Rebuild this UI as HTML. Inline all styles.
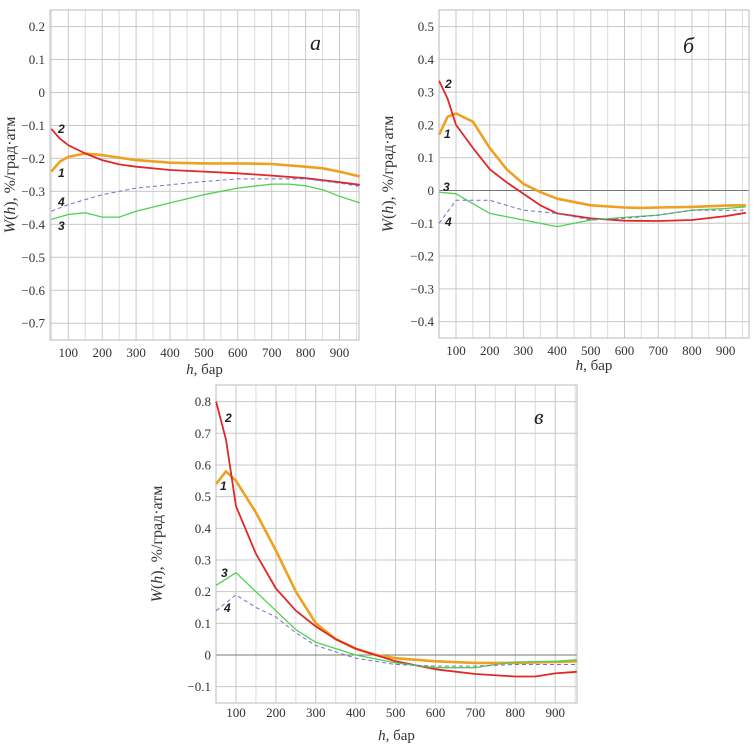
<!DOCTYPE html>
<html><head><meta charset="utf-8"><style>
html,body{margin:0;padding:0;background:#fff;}
svg{display:block;font-family:"Liberation Serif",serif;}
</style></head><body>
<svg id="chart" width="754" height="746" viewBox="0 0 754 746"></svg>
<script>
// ---------- data ----------
const seriesNames = ['1','2','3','4'];
const seriesColors = ['#f0a020','#e02828','#50d050','#7070d0'];
const seriesWidths = [2.6,1.8,1.3,1.0];
const seriesDash = ['','','','4,3'];

const aH1 = [50,75,100,150,200,300,400,500,600,700,800,850,900,960];
const aW1 = [-0.24,-0.21,-0.195,-0.185,-0.19,-0.205,-0.213,-0.215,-0.215,-0.217,-0.225,-0.23,-0.24,-0.255];
const aH2 = [50,75,100,150,200,250,300,400,500,600,700,800,900,960];
const aW2 = [-0.11,-0.14,-0.16,-0.185,-0.205,-0.218,-0.225,-0.235,-0.24,-0.245,-0.252,-0.26,-0.272,-0.28];
const aH3 = [50,100,150,200,250,300,400,500,600,700,750,800,850,900,960];
const aW3 = [-0.385,-0.37,-0.365,-0.378,-0.378,-0.36,-0.335,-0.31,-0.29,-0.278,-0.278,-0.283,-0.295,-0.315,-0.335];
const aH4 = [50,100,200,300,400,500,600,700,800,900,960];
const aW4 = [-0.36,-0.34,-0.31,-0.29,-0.28,-0.27,-0.262,-0.262,-0.262,-0.275,-0.285];

const bH1 = [50,75,100,150,200,250,300,350,400,500,600,650,700,800,900,960];
const bW1 = [0.17,0.225,0.235,0.21,0.13,0.065,0.02,-0.005,-0.025,-0.045,-0.052,-0.053,-0.052,-0.05,-0.046,-0.045];
const bH2 = [50,75,100,150,200,250,300,350,400,500,600,700,800,900,960];
const bW2 = [0.335,0.28,0.2,0.13,0.065,0.025,-0.01,-0.045,-0.07,-0.085,-0.092,-0.093,-0.09,-0.078,-0.068];
const bH3 = [50,100,200,300,400,500,600,700,800,900,960];
const bW3 = [-0.005,-0.01,-0.07,-0.09,-0.11,-0.09,-0.082,-0.075,-0.06,-0.055,-0.05];
const bH4 = [50,100,200,300,400,500,600,700,800,900,960];
const bW4 = [-0.1,-0.03,-0.03,-0.06,-0.07,-0.09,-0.085,-0.075,-0.06,-0.06,-0.06];

const cH1 = [50,75,100,150,200,250,300,350,400,450,500,600,700,800,900,954];
const cW1 = [0.54,0.58,0.55,0.45,0.33,0.2,0.1,0.05,0.02,0.0,-0.01,-0.02,-0.025,-0.025,-0.022,-0.02];
const cH2 = [50,75,100,150,200,250,300,350,400,500,600,700,800,850,900,954];
const cW2 = [0.8,0.68,0.47,0.32,0.21,0.14,0.09,0.05,0.02,-0.02,-0.045,-0.06,-0.068,-0.068,-0.058,-0.053];
const cH3 = [50,100,150,200,250,300,400,500,600,700,750,800,900,954];
const cW3 = [0.22,0.26,0.2,0.14,0.08,0.04,0.0,-0.025,-0.04,-0.04,-0.03,-0.022,-0.02,-0.015];
const cH4 = [50,100,150,200,250,300,400,500,600,700,800,954];
const cW4 = [0.14,0.19,0.15,0.12,0.07,0.03,-0.01,-0.03,-0.035,-0.035,-0.03,-0.03];

const xTicks = [100,200,300,400,500,600,700,800,900];
const aYTicks = [0.2,0.1,0,-0.1,-0.2,-0.3,-0.4,-0.5,-0.6,-0.7];
const bYTicks = [0.5,0.4,0.3,0.2,0.1,0,-0.1,-0.2,-0.3,-0.4];
const cYTicks = [0.8,0.7,0.6,0.5,0.4,0.3,0.2,0.1,0,-0.1];

// ---------- drawing ----------
const NS='http://www.w3.org/2000/svg';
const svg=document.getElementById('chart');
function mk(tag,attrs,parent){const e=document.createElementNS(NS,tag);for(const k in attrs)e.setAttribute(k,attrs[k]);(parent||svg).appendChild(e);return e;}
function fmt(v){if(Math.abs(v)<1e-9)return '0';let s=v.toFixed(1);if(v<0)s='\u2212'+s.slice(1);return s;}

function drawPanel(p){
  const g=mk('g',{});
  
  
  const sx=h=>p.x0+(h-p.h0)*p.kx;
  const sy=w=>p.y0-w*p.ky;
  // grid
  for(let h=50;h<=p.hmax;h+=50){
    const l=mk('line',{x1:sx(h),x2:sx(h),y1:p.top,y2:p.bottom,stroke:h%100===0?'#c8c8c8':'#dcdcdc','stroke-width':1},g);
    
    
  }
  p.yt.forEach(v=>{
    const l=mk('line',{x1:p.left,x2:p.right,y1:sy(v),y2:sy(v),stroke:Math.abs(v)<1e-9&&p.zeroDark?'#777':'#c8c8c8','stroke-width':1},g);
    
    
    const t=mk('text',{x:p.left-5,y:sy(v)+4.5,'text-anchor':'end','font-size':13,fill:'#333'},g);
    t.textContent=fmt(v);
    
    
  });
  const fr=mk('rect',{x:p.left,y:p.top,width:p.right-p.left,height:p.bottom-p.top,fill:'none',stroke:'#bbb','stroke-width':1},g);
  
  
  xTicks.forEach(h=>{
    const t=mk('text',{x:sx(h),y:p.bottom+p.xtOff,'text-anchor':'middle','font-size':13,fill:'#333'},g);
    t.textContent=h;
    
    
  });
  // series
  p.series.forEach((s,i)=>{
    const pts=s[0].map((h,j)=>sx(h).toFixed(1)+','+sy(s[1][j]).toFixed(1)).join(' ');
    const pl=mk('polyline',{points:pts,fill:'none',stroke:seriesColors[i],'stroke-width':seriesWidths[i],'stroke-dasharray':seriesDash[i],'stroke-linejoin':'round'},g);
    
    
    const t=mk('text',{x:p.lab[i][0],y:p.lab[i][1],'font-size':12,'font-weight':'bold','font-style':'italic','font-family':'Liberation Sans, sans-serif',fill:'#222'},g);
    t.textContent=seriesNames[i];
    
    
  });
  const L=mk('text',{x:p.letter[0],y:p.letter[1],'font-size':22,'font-style':'italic',fill:'#222'},g);
  L.textContent=p.id;
  
  
  const xt=mk('text',{x:(p.left+p.right)/2,y:p.bottom+p.xtitleOff,'text-anchor':'middle','font-size':15,fill:'#333'},g);
  xt.innerHTML='<tspan font-style="italic">h</tspan>, бар';
  
  
  const cy=(p.top+p.bottom)/2;
  const yt=mk('text',{x:p.ytx,y:cy,'text-anchor':'middle','font-size':16,fill:'#333',transform:'rotate(-90 '+p.ytx+' '+cy+')'},g);
  yt.innerHTML='<tspan font-style="italic">W</tspan>(<tspan font-style="italic">h</tspan>), %/град·атм';
  
  
}

drawPanel({id:'а',h0:100,x0:68.3,kx:0.339,y0:92.5,ky:329.6,left:50,right:359,top:10,bottom:340,hmax:950,
  yt:aYTicks,zeroDark:false,xtOff:17,xtitleOff:34,ytx:15,letter:[310,50],
  series:[[aH1,aW1],[aH2,aW2],[aH3,aW3],[aH4,aW4]],
  lab:[[58,177],[58,133],[58,230],[58,206]]});
drawPanel({id:'б',h0:100,x0:456,kx:0.337,y0:190.5,ky:327.8,left:439,right:749,top:10,bottom:338,hmax:950,
  yt:bYTicks,zeroDark:true,xtOff:17,xtitleOff:32,ytx:393,letter:[683,53],
  series:[[bH1,bW1],[bH2,bW2],[bH3,bW3],[bH4,bW4]],
  lab:[[444,138],[445,88],[443,191],[445,226]]});
drawPanel({id:'в',h0:100,x0:236,kx:0.399,y0:655,ky:316.7,left:216,right:577,top:385,bottom:703,hmax:950,
  yt:cYTicks,zeroDark:true,xtOff:14,xtitleOff:37,ytx:162,letter:[534,424],
  series:[[cH1,cW1],[cH2,cW2],[cH3,cW3],[cH4,cW4]],
  lab:[[220,490],[225,422],[221,577],[224,612]]});
</script>
</body></html>
